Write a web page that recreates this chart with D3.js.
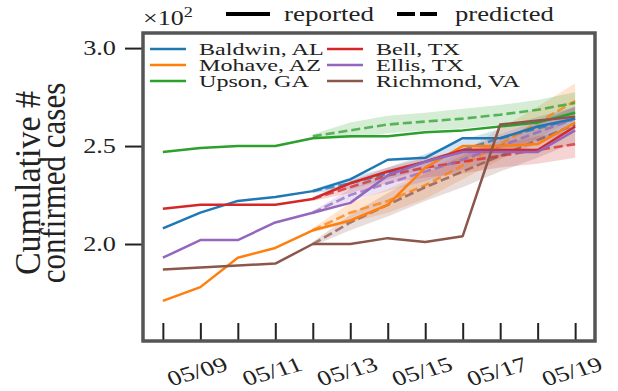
<!DOCTYPE html>
<html>
<head>
<meta charset="utf-8">
<script src="https://cdn.jsdelivr.net/npm/d3@7"></script>
<style>
  body { margin: 0; background: #fff; }
  text { font-family: "Liberation Serif", "DejaVu Serif", serif; fill: #222; }
</style>
</head>
<body>
<script>
// dates on the x axis
const dates = ["05/08", "05/09", "05/10", "05/11", "05/12", "05/13",
  "05/14", "05/15", "05/16", "05/17", "05/18", "05/19"];
const tickLabels = ["05/09", "05/11", "05/13", "05/15", "05/17", "05/19"];
const yTicks = [200, 250, 300];

const counties = ["Baldwin, AL", "Mohave, AZ", "Upson, GA", "Bell, TX", "Ellis, TX", "Richmond, VA"];
const colors = ["#1f77b4", "#ff7f0e", "#2ca02c", "#d62728", "#9467bd", "#8c564b"];

// reported cumulative cases, 05/08 .. 05/19
const baldwin = [208, 216, 222, 224, 227, 233, 243, 244, 254, 254, 260, 264];
const mohave = [171, 178, 193, 198, 207, 212, 220, 239, 250, 250, 251, 262];
const upson = [247, 249, 250, 250, 254, 255, 255, 257, 258, 260, 262, 267];
const bell = [218, 220, 220, 220, 223, 231, 237, 242, 248, 248, 248, 260];
const ellis = [193, 202, 202, 211, 216, 221, 235, 242, 247, 247, 247, 258];
const richmond = [187, 188, 189, 190, 200, 200, 203, 201, 204, 261, 263, 265];

// predicted, 05/12 .. 05/19, and half width of the shaded band
const predStart = 4;
const baldwinPred = [227, 231, 236, 242, 248, 254, 259, 264];
const baldwinBand = [1, 3, 3, 4, 5, 5, 6, 6];
const mohavePred = [207, 216, 222, 230, 240, 251, 262, 273];
const mohaveBand = [1, 5, 6, 7, 7, 8, 8, 9];
const upsonPred = [255, 258, 261, 262.5, 264, 266, 268.5, 272];
const upsonBand = [1, 4, 4.5, 4.5, 5, 5, 5, 5.5];
const bellPred = [223, 229, 235, 239, 242, 245, 248, 251];
const bellBand = [1, 3, 4, 5, 6, 6, 7, 7];
const ellisPred = [216, 225, 231, 237, 243, 250, 257, 264];
const ellisBand = [1, 3, 4, 5, 5, 6, 6, 6];
const richmondPred = [200, 211, 220, 229, 237, 245, 253, 261];
const richmondBand = [1, 4, 6, 7, 8, 8, 9, 9];

const reported = [baldwin, mohave, upson, bell, ellis, richmond];
const predicted = [baldwinPred, mohavePred, upsonPred, bellPred, ellisPred, richmondPred];
const bands = [baldwinBand, mohaveBand, upsonBand, bellBand, ellisBand, richmondBand];

const width = 618;
const height = 391;
const frame = { left: 143, right: 595, top: 33, bottom: 341 };
const serif = "'Liberation Serif', 'DejaVu Serif', serif";

const svg = d3.select("body").append("svg")
  .attr("width", width)
  .attr("height", height);

const x = d3.scaleLinear()
  .domain([-0.53, dates.length - 1 + 0.53])
  .range([frame.left, frame.right]);

const y = d3.scaleLinear()
  .domain([150.5, 307.7])
  .range([frame.bottom, frame.top]);

// stretched serif text (the reference text is wide)
function label(g, px, py, str, size, sx, rot, anchor) {
  return g.append("text")
    .attr("transform", `translate(${px},${py}) scale(${sx},1) rotate(${rot || 0})`)
    .attr("font-family", serif)
    .attr("font-size", size)
    .attr("text-anchor", anchor || "start")
    .text(str);
}

const plot = svg.append("g");

const area = d3.area()
  .x((d) => x(d.i))
  .y0((d) => y(d.v - d.b))
  .y1((d) => y(d.v + d.b));

const line = d3.line()
  .x((d) => x(d.i))
  .y((d) => y(d.v));

counties.forEach((name, k) => {
  const pts = predicted[k].map((v, j) => ({ i: predStart + j, v: v, b: bands[k][j] }));
  plot.append("path")
    .datum(pts)
    .attr("d", area)
    .attr("fill", colors[k])
    .attr("fill-opacity", 0.2);
});

counties.forEach((name, k) => {
  const pts = predicted[k].map((v, j) => ({ i: predStart + j, v: v }));
  plot.append("path")
    .datum(pts)
    .attr("d", line)
    .attr("fill", "none")
    .attr("stroke", colors[k])
    .attr("stroke-width", 2.6)
    .attr("stroke-opacity", 0.75)
    .attr("stroke-dasharray", "9,4");
});

counties.forEach((name, k) => {
  const pts = reported[k].map((v, i) => ({ i: i, v: v }));
  plot.append("path")
    .datum(pts)
    .attr("d", line)
    .attr("fill", "none")
    .attr("stroke", colors[k])
    .attr("stroke-width", 2.5)
    .attr("stroke-linejoin", "round");
});

// x axis ticks point inward
const xAxis = d3.axisBottom(x)
  .tickValues(d3.range(dates.length))
  .tickSize(-18)
  .tickFormat("");
svg.append("g")
  .attr("transform", `translate(0,${frame.bottom})`)
  .call(xAxis)
  .call((g) => g.select(".domain").remove())
  .call((g) => g.selectAll(".tick line").attr("stroke", "#222").attr("stroke-width", 2));

tickLabels.forEach((t) => {
  const i = dates.indexOf(t);
  label(svg, x(i), 378, t, 21, 1.3, -20, "middle");
});

const yAxis = d3.axisLeft(y)
  .tickValues(yTicks)
  .tickSize(18)
  .tickFormat("");
svg.append("g")
  .attr("transform", `translate(${frame.left},0)`)
  .call(yAxis)
  .call((g) => g.select(".domain").remove())
  .call((g) => g.selectAll(".tick line").attr("stroke", "#222").attr("stroke-width", 2));

yTicks.forEach((v) => {
  label(svg, 116, y(v) + 7, (v / 100).toFixed(1), 21, 1.25, 0, "end");
});

// frame
svg.append("rect")
  .attr("x", frame.left)
  .attr("y", frame.top)
  .attr("width", frame.right - frame.left)
  .attr("height", frame.bottom - frame.top)
  .attr("fill", "none")
  .attr("stroke", "#555")
  .attr("stroke-width", 3.5);

// offset text
const off = label(svg, 143, 25, "\u00d710", 20, 1.3, 0, "start");
off.append("tspan").attr("dy", -8).attr("font-size", 14).text("2");

// y label, two lines
label(svg, 40, 183, "Cumulative #", 34, 1.05, -90, "middle");
label(svg, 65, 183, "confirmed cases", 31, 1.13, -90, "middle");

// legend for series
const legCols = [[150, 199], [327, 376]];
counties.forEach((name, k) => {
  const col = Math.floor(k / 3);
  const row = k % 3;
  const ly = 49 + row * 16;
  svg.append("line")
    .attr("x1", legCols[col][0]).attr("x2", legCols[col][0] + 36)
    .attr("y1", ly).attr("y2", ly)
    .attr("stroke", colors[k])
    .attr("stroke-width", 2.5);
  label(svg, legCols[col][1], ly + 6, name, 17, 1.42, 0, "start");
});

// legend for line styles
svg.append("line")
  .attr("x1", 226).attr("x2", 270).attr("y1", 14).attr("y2", 14)
  .attr("stroke", "#000").attr("stroke-width", 4);
label(svg, 284, 21, "reported", 20, 1.35, 0, "start");
svg.append("line")
  .attr("x1", 397).attr("x2", 437).attr("y1", 14).attr("y2", 14)
  .attr("stroke", "#000").attr("stroke-width", 4)
  .attr("stroke-dasharray", "18,5");
label(svg, 455, 21, "predicted", 20, 1.33, 0, "start");
</script>
</body>
</html>
